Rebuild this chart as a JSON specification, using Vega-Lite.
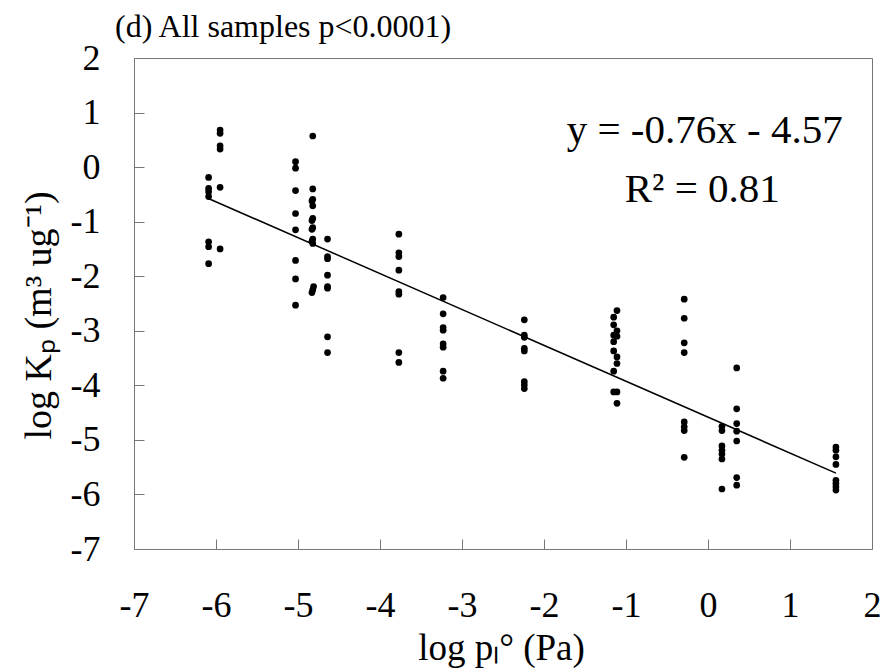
{
  "$schema": "https://vega.github.io/schema/vega-lite/v6.json",
  "autosize": "none",
  "width": 738,
  "height": 491,
  "padding": {"left": 134, "top": 58, "right": 13, "bottom": 123},
  "background": "white",
  "config": {
    "font": "Liberation Serif",
    "view": {"stroke": "#777", "strokeWidth": 1}
  },
  "title": {
    "text": "(d) All samples p<0.0001)",
    "anchor": "start",
    "frame": "group",
    "fontSize": 32,
    "fontWeight": "normal",
    "font": "Liberation Serif",
    "color": "black",
    "dx": -19,
    "offset": -4
  },
  "datasets": {
    "pts": [
      {"x": -6.09, "y": -0.19}, {"x": -6.09, "y": -0.39}, {"x": -6.09, "y": -0.45}, {"x": -6.09, "y": -0.54}, {"x": -6.09, "y": -1.37}, {"x": -6.09, "y": -1.46}, {"x": -6.09, "y": -1.77},
      {"x": -5.95, "y": 0.68}, {"x": -5.95, "y": 0.62}, {"x": -5.95, "y": 0.39}, {"x": -5.95, "y": 0.33}, {"x": -5.95, "y": -0.37}, {"x": -5.95, "y": -1.5},
      {"x": -5.03, "y": 0.1}, {"x": -5.03, "y": -0.02}, {"x": -5.03, "y": -0.43}, {"x": -5.03, "y": -0.85}, {"x": -5.03, "y": -1.15}, {"x": -5.03, "y": -1.71}, {"x": -5.03, "y": -2.05}, {"x": -5.03, "y": -2.53},
      {"x": -4.82, "y": 0.57}, {"x": -4.82, "y": -0.4}, {"x": -4.82, "y": -0.59}, {"x": -4.83, "y": -0.62}, {"x": -4.82, "y": -0.71}, {"x": -4.82, "y": -0.94}, {"x": -4.83, "y": -0.98}, {"x": -4.82, "y": -1.11}, {"x": -4.83, "y": -1.14}, {"x": -4.82, "y": -1.32}, {"x": -4.83, "y": -1.36}, {"x": -4.82, "y": -1.4}, {"x": -4.81, "y": -2.19}, {"x": -4.82, "y": -2.25}, {"x": -4.83, "y": -2.3},
      {"x": -4.64, "y": -1.32}, {"x": -4.64, "y": -1.64}, {"x": -4.64, "y": -1.68}, {"x": -4.64, "y": -1.98}, {"x": -4.64, "y": -2.19}, {"x": -4.64, "y": -2.22}, {"x": -4.64, "y": -3.11}, {"x": -4.64, "y": -3.4},
      {"x": -3.77, "y": -1.23}, {"x": -3.77, "y": -1.57}, {"x": -3.77, "y": -1.64}, {"x": -3.77, "y": -1.89}, {"x": -3.77, "y": -2.28}, {"x": -3.77, "y": -2.33}, {"x": -3.77, "y": -3.4}, {"x": -3.77, "y": -3.58},
      {"x": -3.23, "y": -2.39}, {"x": -3.23, "y": -2.69}, {"x": -3.23, "y": -2.94}, {"x": -3.23, "y": -2.99}, {"x": -3.23, "y": -3.24}, {"x": -3.23, "y": -3.3}, {"x": -3.23, "y": -3.74}, {"x": -3.23, "y": -3.87},
      {"x": -2.24, "y": -2.8}, {"x": -2.24, "y": -3.08}, {"x": -2.24, "y": -3.12}, {"x": -2.24, "y": -3.32}, {"x": -2.24, "y": -3.37}, {"x": -2.24, "y": -3.93}, {"x": -2.24, "y": -3.99}, {"x": -2.24, "y": -4.06},
      {"x": -1.11, "y": -2.63}, {"x": -1.15, "y": -2.75}, {"x": -1.15, "y": -2.89}, {"x": -1.11, "y": -3.0}, {"x": -1.15, "y": -3.08}, {"x": -1.11, "y": -3.1}, {"x": -1.15, "y": -3.2}, {"x": -1.15, "y": -3.37}, {"x": -1.11, "y": -3.48}, {"x": -1.11, "y": -3.6}, {"x": -1.15, "y": -3.74}, {"x": -1.15, "y": -4.12}, {"x": -1.11, "y": -4.12}, {"x": -1.11, "y": -4.33},
      {"x": -0.29, "y": -2.42}, {"x": -0.29, "y": -2.77}, {"x": -0.29, "y": -3.22}, {"x": -0.29, "y": -3.4}, {"x": -0.29, "y": -4.67}, {"x": -0.29, "y": -4.76}, {"x": -0.29, "y": -4.83}, {"x": -0.29, "y": -5.32},
      {"x": 0.17, "y": -4.75}, {"x": 0.17, "y": -4.83}, {"x": 0.17, "y": -5.11}, {"x": 0.17, "y": -5.19}, {"x": 0.17, "y": -5.26}, {"x": 0.17, "y": -5.35}, {"x": 0.17, "y": -5.9},
      {"x": 0.35, "y": -3.68}, {"x": 0.35, "y": -4.43}, {"x": 0.35, "y": -4.7}, {"x": 0.35, "y": -4.84}, {"x": 0.35, "y": -5.02}, {"x": 0.35, "y": -5.69}, {"x": 0.35, "y": -5.83},
      {"x": 1.56, "y": -5.13}, {"x": 1.56, "y": -5.19}, {"x": 1.56, "y": -5.31}, {"x": 1.56, "y": -5.45}, {"x": 1.56, "y": -5.74}, {"x": 1.56, "y": -5.8}, {"x": 1.56, "y": -5.86}, {"x": 1.56, "y": -5.92}
    ],
    "fit": [
      {"x": -6.1, "y": -0.57},
      {"x": 1.56, "y": -5.61}
    ],
    "notes": [
      {"x": -0.04, "y": 0.44, "label": "y = -0.76x - 4.57"},
      {"x": -0.07, "y": -0.64, "label": "R² = 0.81"}
    ]
  },
  "encoding": {
    "x": {
      "field": "x",
      "type": "quantitative",
      "scale": {"domain": [-7, 2], "nice": false, "zero": false},
      "axis": {
        "values": [-7, -6, -5, -4, -3, -2, -1, 0, 1, 2],
        "labelExpr": "datum.value + ''",
        "grid": false,
        "domain": false,
        "tickSize": -10,
        "tickColor": "#777",
        "labelPadding": 49,
        "labelFontSize": 36,
        "labelColor": "black",
        "labelFont": "Liberation Serif",
        "labelFlush": false,
        "labelOverlap": false,
        "title": "log pₗ° (Pa)",
        "titleFontSize": 37,
        "titleFontWeight": "normal",
        "titleFont": "Liberation Serif",
        "titleColor": "black",
        "titleBaseline": "alphabetic",
        "titleY": 110,
        "titleX": 367
      }
    },
    "y": {
      "field": "y",
      "type": "quantitative",
      "scale": {"domain": [-7, 2], "nice": false, "zero": false},
      "axis": {
        "values": [-7, -6, -5, -4, -3, -2, -1, 0, 1, 2],
        "labelExpr": "datum.value + ''",
        "grid": false,
        "domain": false,
        "tickSize": -10,
        "tickColor": "#777",
        "labelPadding": 44,
        "labelFontSize": 36,
        "labelColor": "black",
        "labelFont": "Liberation Serif",
        "labelFlush": false,
        "labelOverlap": false,
        "title": "log Kₚ (m³ ug⁻¹)",
        "titleFontSize": 38,
        "titleFontWeight": "normal",
        "titleFont": "Liberation Serif",
        "titleColor": "black",
        "titleAngle": -90,
        "titleBaseline": "alphabetic",
        "titleAlign": "center",
        "titleX": -84,
        "titleY": 257
      }
    }
  },
  "layer": [
    {
      "data": {"name": "fit"},
      "mark": {"type": "line", "color": "black", "strokeWidth": 1.5}
    },
    {
      "data": {"name": "pts"},
      "mark": {"type": "circle", "color": "black", "opacity": 1, "size": 45}
    },
    {
      "data": {"name": "notes"},
      "mark": {"type": "text", "fontSize": 41, "font": "Liberation Serif", "align": "center", "baseline": "alphabetic", "color": "black"},
      "encoding": {"text": {"field": "label"}}
    }
  ]
}
